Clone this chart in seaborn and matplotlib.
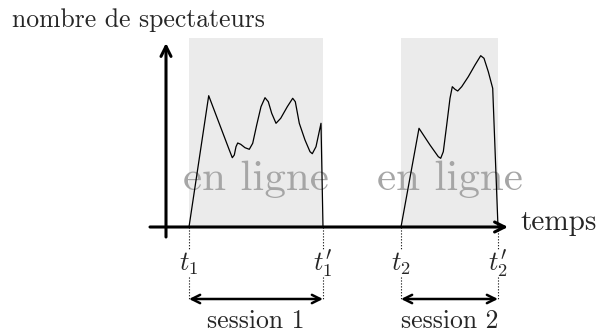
import numpy as np
import pandas as pd
import matplotlib
matplotlib.use("Agg")
import matplotlib.pyplot as plt
import seaborn as sns

# session bounds (time units) and shaded box height
session_names = ["session 1", "session 2"]
session_start = [2.3, 23.5]
session_end = [15.7, 33.2]
start_labels = [r"$t_1$", r"$t_2$"]
end_labels = [r"$t_1^{\prime}$", r"$t_2^{\prime}$"]
box_top = 18.9

# viewer curves
time_1 = [2.30, 4.27, 6.33, 6.63, 6.83, 7.00, 7.17, 7.47, 7.90, 8.33, 8.67, 9.07,
          9.50, 9.90, 10.23, 10.57, 11.00, 11.47, 12.13, 12.67, 12.93, 13.33,
          13.90, 14.40, 14.63, 15.00, 15.50, 15.70]
viewers_1 = [0.00, 13.13, 7.70, 6.93, 7.20, 8.03, 8.40, 8.27, 7.93, 7.77, 8.37, 10.20,
             12.03, 12.93, 12.53, 11.37, 10.37, 10.87, 12.03, 12.87, 12.53, 10.37,
             8.70, 7.53, 7.33, 8.03, 10.37, 0.00]
time_2 = [23.50, 25.30, 26.40, 27.23, 27.47, 27.73, 28.07, 28.40, 28.63, 28.90,
          29.17, 29.57, 30.23, 30.90, 31.47, 31.80, 32.23, 32.67, 33.20]
viewers_2 = [0.00, 9.87, 8.20, 7.03, 6.87, 7.53, 10.20, 12.87, 14.03, 13.77,
             13.60, 14.03, 15.03, 16.20, 17.13, 16.87, 15.53, 13.87, 0.00]

df = pd.concat([
    pd.DataFrame({"time": time_1, "viewers": viewers_1, "session": session_names[0]}),
    pd.DataFrame({"time": time_2, "viewers": viewers_2, "session": session_names[1]}),
])

sns.set_style("white")
plt.rcParams["font.family"] = ["cmr10", "DejaVu Serif"]
plt.rcParams["mathtext.fontset"] = "cm"
plt.rcParams["axes.formatter.use_mathtext"] = True

fig = plt.figure(figsize=(6, 3.33), dpi=100)
ax = fig.add_axes([0, 0, 1, 1])
ax.set_xlim(-16.6, 43.4)
ax.set_ylim(-10.6, 22.7)
ax.axis("off")

# shaded online periods
for s, e in zip(session_start, session_end):
    ax.fill_between([s, e], 0, box_top, color="#ebebeb", lw=0, zorder=0)
    ax.text((s + e) / 2, 3.7, "en ligne", ha="center", va="baseline",
            fontsize=31, color="#a6a6a6", zorder=1)

sns.lineplot(data=df, x="time", y="viewers", hue="session", units="session",
             estimator=None, sort=False, palette=["black", "black"],
             lw=0.9, legend=False, ax=ax, zorder=3)

# axes with arrows
ax.annotate("", xy=(34.2, 0), xytext=(-1.6, 0),
            arrowprops=dict(arrowstyle="->", lw=2.2, mutation_scale=18,
                            shrinkA=0, shrinkB=0, color="black"), zorder=4)
ax.annotate("", xy=(0, 18.4), xytext=(0, -1.0),
            arrowprops=dict(arrowstyle="->", lw=2.2, mutation_scale=18,
                            shrinkA=0, shrinkB=0, color="black"), zorder=4)
ax.text(-15.4, 20.0, "nombre de spectateurs", ha="left", va="baseline", fontsize=18.5)
ax.text(35.4, -0.3, "temps", ha="left", va="baseline", fontsize=21)

# session markers
for name, s, e, ls, le in zip(session_names, session_start, session_end,
                              start_labels, end_labels):
    for x, lab in [(s, ls), (e, le)]:
        ax.plot([x, x], [0, -2.3], ls=":", color="black", lw=0.8)
        ax.plot([x, x], [-5.0, -7.2], ls=":", color="black", lw=0.8)
        ax.text(x, -4.4, lab, ha="center", va="baseline", fontsize=19)
    ax.annotate("", xy=(e, -7.2), xytext=(s, -7.2),
                arrowprops=dict(arrowstyle="<->", lw=1.8, mutation_scale=15,
                                shrinkA=0, shrinkB=0, color="black"))
    ax.text((s + e) / 2, -10.1, name, ha="center", va="baseline", fontsize=18.5)

fig.savefig("out.png", dpi=100)
